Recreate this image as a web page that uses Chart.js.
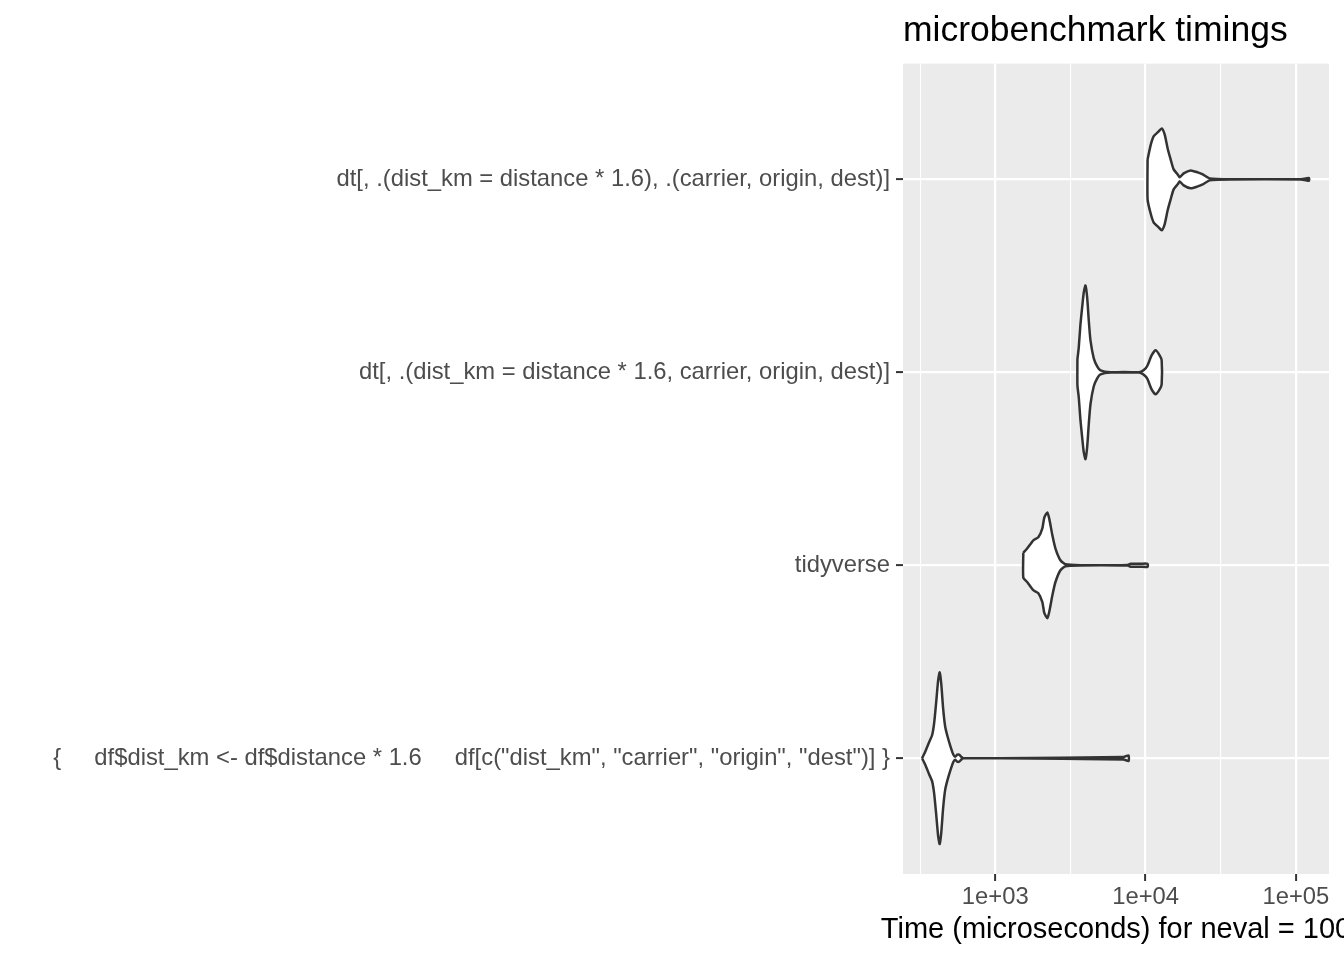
<!DOCTYPE html>
<html>
<head>
<meta charset="utf-8">
<title>microbenchmark timings</title>
<script src="https://cdn.jsdelivr.net/npm/chart.js@4.4.0/dist/chart.umd.min.js"></script>
<style>
    body { margin: 0; background: #fff; }
    canvas { display: block; }
</style>
</head>
<body>
<canvas id="myChart" width="1344" height="960"></canvas>
<script>
// CATEGORIAS (DE BAIXO PARA CIMA, COMO NO GGPLOT)
const categories = [
    '{     df$dist_km <- df$distance * 1.6     df[c("dist_km", "carrier", "origin", "dest")] }',
    'tidyverse',
    'dt[, .(dist_km = distance * 1.6, carrier, origin, dest)]',
    'dt[, .(dist_km = distance * 1.6), .(carrier, origin, dest)]'
];

// TEMPOS (MICROSSEGUNDOS) AO LONGO DE CADA VIOLINO E A DENSIDADE LIDA EM CADA PONTO
const timesBase = [326, 341, 363, 380, 392, 404, 417, 427, 437, 450, 464, 479, 501, 525, 541, 558, 575, 593, 612, 681, 1080, 7136, 7701];
const densBase = [0, 6, 16, 23, 35, 55, 78, 86, 75, 50, 32, 23, 13, 4, 1.5, 3.5, 3.5, 1.5, 0.1, 0.1, 0.1, 1.2, 2.8];

const timesTidy = [1537, 1634, 1792, 1935, 2057, 2121, 2222, 2291, 2399, 2512, 2713, 2929, 3687, 7586, 7943, 9261, 10311];
const densTidy = [12.5, 17, 25, 28, 37, 48, 53, 46, 30, 17, 5, 1, 0.1, 0.3, 1.5, 1.5, 1.5];

const timesDt1 = [3520, 3593, 3687, 3784, 3879, 3981, 4086, 4188, 4299, 4522, 4764, 5012, 5843, 8980, 9550, 10000, 10311, 10965, 11659, 12397, 12790];
const densDt1 = [13, 25, 48, 65, 80, 87, 75, 52, 32, 14, 6, 2, 0.1, 0.1, 1.5, 4, 7, 17, 22, 17, 12];

const timesDt2 = [10311, 10797, 11308, 12210, 12790, 13390, 14020, 14678, 15370, 16350, 16850, 17920, 19950, 22220, 23990, 26710, 36840, 108000, 116600, 122100];
const densDt2 = [20, 34, 43, 48, 51, 45, 31, 20, 10, 5, 2, 6, 9, 7, 5, 1, 0.1, 0.1, 0.8, 1.5];

// TICKS DO EIXO X (MAIORES E MENORES)
const xTicks = [316.2, 1000, 3162, 10000, 31623, 100000];
const xTickLabels = ['', '1e+03', '', '1e+04', '', '1e+05'];
const xTitle = 'Time (microseconds) for neval = 100';

const maxDens = 87;      // densidade do violino mais largo
const halfWidth = 0.45;  // meia largura maxima (width = 0.9)

// MONTA O CONTORNO FECHADO DE UM VIOLINO (CIMA -> BAIXO -> VOLTA AO INICIO)
function buildViolin(pos, tempos, dens) {
    const k = halfWidth / maxDens;
    const top = tempos.map((t, i) => ({ x: t, y: pos + dens[i] * k }));
    const bottom = tempos.map((t, i) => ({ x: t, y: pos - dens[i] * k })).reverse();
    return top.concat(bottom, [top[0]]);
}

function violinDataset(data) {
    return {
        data: data,
        showLine: true,
        fill: 'shape',
        backgroundColor: '#ffffff',
        borderColor: '#333333',
        borderWidth: 2.5,
        borderJoinStyle: 'round',
        pointRadius: 0,
        tension: 0.2
    };
}

const fontFamily = '"Liberation Sans", Arial, Helvetica, sans-serif';

// FUNDO CINZA DO PAINEL + TITULO DO EIXO X (SEM COMPRIMIR O TEXTO)
const panelBackground = {
    id: 'panelBackground',
    beforeDraw(chart) {
        const { ctx, chartArea: a } = chart;
        ctx.save();
        ctx.fillStyle = '#ffffff';
        ctx.fillRect(0, 0, chart.width, chart.height);
        ctx.fillStyle = '#EBEBEB';
        ctx.fillRect(a.left, a.top, a.right - a.left, a.bottom - a.top);
        ctx.restore();
    },
    afterDraw(chart) {
        const { ctx, chartArea: a } = chart;
        ctx.save();
        ctx.fillStyle = '#000000';
        ctx.font = '29px ' + fontFamily;
        ctx.textAlign = 'center';
        ctx.textBaseline = 'alphabetic';
        ctx.fillText(xTitle, (a.left + a.right) / 2, a.bottom + 64);
        ctx.restore();
    }
};

new Chart('myChart', {
    type: 'scatter',
    data: {
        datasets: [
            violinDataset(buildViolin(1, timesBase, densBase)),
            violinDataset(buildViolin(2, timesTidy, densTidy)),
            violinDataset(buildViolin(3, timesDt1, densDt1)),
            violinDataset(buildViolin(4, timesDt2, densDt2))
        ]
    },
    options: {
        responsive: false,
        animation: false,
        devicePixelRatio: 1,
        layout: { padding: { left: 0, right: 15, top: 0, bottom: 0 } },
        plugins: {
            legend: { display: false },
            tooltip: { enabled: false },
            title: {
                display: true,
                text: 'microbenchmark timings',
                align: 'start',
                fullSize: false,
                color: '#000000',
                font: { family: fontFamily, size: 35.5, weight: 'normal' },
                padding: { top: 10, bottom: 11 }
            }
        },
        scales: {
            x: {
                type: 'logarithmic',
                min: 243.4,
                max: 165960,
                afterBuildTicks: scale => {
                    scale.ticks = xTicks.map(v => ({ value: v }));
                },
                afterFit: scale => {
                    scale.height = 86;
                },
                border: { display: false },
                grid: {
                    color: '#ffffff',
                    lineWidth: ctx => (xTickLabels[ctx.index] ? 2.2 : 1.1),
                    tickColor: ctx => (xTickLabels[ctx.index] ? '#333333' : 'rgba(0,0,0,0)'),
                    tickLength: 7,
                    tickWidth: 2
                },
                ticks: {
                    autoSkip: false,
                    maxRotation: 0,
                    padding: 2,
                    color: '#4D4D4D',
                    font: { family: fontFamily, size: 23.8 },
                    callback: (value, index) => xTickLabels[index]
                }
            },
            y: {
                type: 'linear',
                min: 0.4,
                max: 4.6,
                afterBuildTicks: scale => {
                    scale.ticks = categories.map((c, i) => ({ value: i + 1 }));
                },
                afterFit: scale => {
                    scale.width = 903;
                },
                border: { display: false },
                grid: {
                    color: '#ffffff',
                    lineWidth: 2.2,
                    tickColor: '#333333',
                    tickLength: 7,
                    tickWidth: 2
                },
                ticks: {
                    autoSkip: false,
                    padding: 6,
                    color: '#4D4D4D',
                    font: { family: fontFamily, size: 23.8 },
                    callback: value => categories[value - 1]
                }
            }
        }
    },
    plugins: [panelBackground]
});
</script>
</body>
</html>
